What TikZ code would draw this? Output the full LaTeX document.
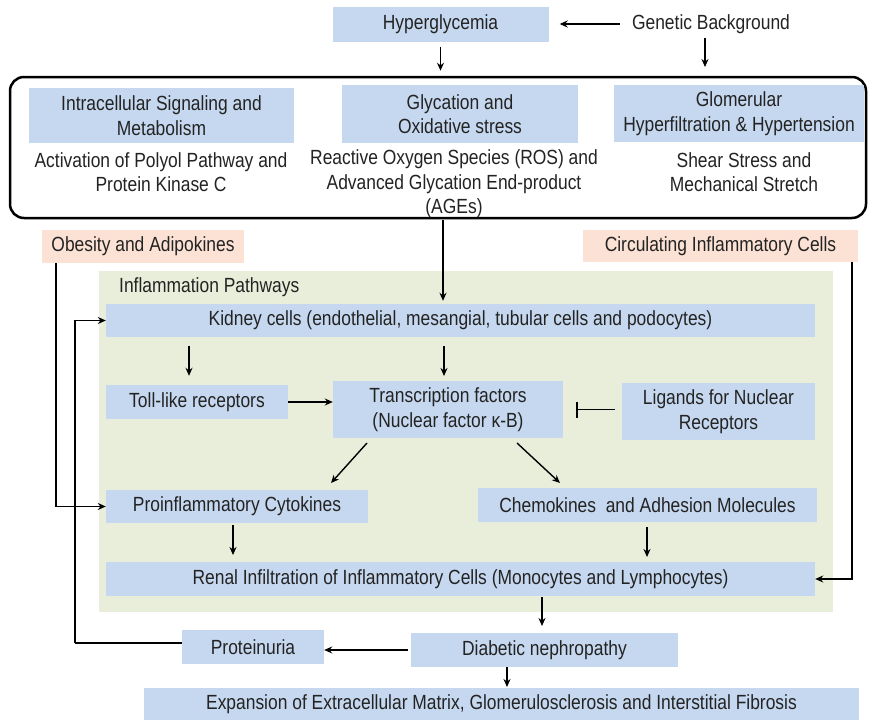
\documentclass[tikz,border=0pt]{standalone}
\usepackage{fontspec}
\setmainfont{Liberation Sans}[FakeStretch=0.85]
\usetikzlibrary{arrows.meta,calc}
\definecolor{bbox}{RGB}{198,216,239}
\definecolor{pbox}{RGB}{252,226,212}
\definecolor{gbg}{RGB}{233,238,218}
\definecolor{txt}{RGB}{35,35,35}
\begin{document}
\begin{tikzpicture}[x=1pt,y=-1pt,
  every node/.style={font=\fontsize{20.5}{24.5}\selectfont, text=txt, inner sep=0pt, align=center},
  bx/.style={fill=bbox, draw=none, minimum width=#1},
  pk/.style={fill=pbox, draw=none, minimum width=#1},
  tx/.style={fill=none},
  arr/.style={-{Stealth[length=8pt,width=7pt]}, line width=1.4pt, black},
  ln/.style={line width=1.4pt, black}]
\useasboundingbox (0,0) rectangle (871,720);
\fill[white] (0,0) rectangle (871,720);
% frames
\node[draw=black, line width=2.5pt, rounded corners=14pt, minimum width=856pt, minimum height=141pt] (frame) at (438,147.5) {};
\fill[gbg] (99,271) rectangle (833,612);
% top
\node[bx=216pt, minimum height=35pt] (hyper) at (440.5,24.5) {Hyperglycemia};
\node[tx] (gen) at (711,24) {Genetic Background};
\node[bx=265pt, minimum height=55pt] (intra) at (161.5,115.5) {Intracellular Signaling and\\Metabolism};
\node[bx=236pt, minimum height=58pt] (glyc) at (460,114) {Glycation and\\Oxidative stress};
\node[bx=250pt, minimum height=57pt] (glom) at (739,113.5) {Glomerular\\Hyperfiltration \& Hypertension};
\node[tx] (act) at (161,172) {Activation of Polyol Pathway and\\Protein Kinase C};
\node[tx] (ros) at (454,184) {Reactive Oxygen Species (ROS) and\\Advanced Glycation End-product\\(AGEs)};
\node[tx] (shear) at (744,172) {Shear Stress and\\Mechanical Stretch};
% middle
\node[pk=202pt, minimum height=33pt] (obes) at (143,246.5) {Obesity and Adipokines};
\node[pk=275pt, minimum height=32pt] (circ) at (720.5,246) {Circulating Inflammatory Cells};
\node[tx, anchor=west] (infl) at (119,287) {Inflammation Pathways};
\node[bx=709pt, minimum height=33pt] (kid) at (460.5,320.5) {Kidney cells (endothelial, mesangial, tubular cells and podocytes)};
\node[bx=182pt, minimum height=34pt] (toll) at (197,402) {Toll-like receptors};
\node[bx=230pt, minimum height=57pt] (tf) at (448,409.5) {Transcription factors\\(Nuclear factor κ-B)};
\node[bx=193pt, minimum height=57pt] (lig) at (718.5,411.5) {Ligands for Nuclear\\Receptors};
\node[bx=262pt, minimum height=33pt] (proinf) at (237,506.5) {Proinflammatory Cytokines};
\node[bx=339pt, minimum height=34pt] (chemo) at (647.5,505) {Chemokines\ \ and Adhesion Molecules};
\node[bx=709pt, minimum height=34pt] (renal) at (460.5,579) {Renal Infiltration of Inflammatory Cells (Monocytes and Lymphocytes)};
\node[bx=267pt, minimum height=34pt] (diab) at (544.5,650) {Diabetic nephropathy};
\node[bx=142pt, minimum height=34pt] (prot) at (253,647) {Proteinuria};
\node[bx=715pt, minimum height=32pt] (expn) at (501.5,704) {Expansion of Extracellular Matrix, Glomerulosclerosis and Interstitial Fibrosis};
% connectors
\draw[arr, shorten <=12pt, shorten >=11pt] (gen.west) -- (gen.west -| hyper.east);
\draw[arr, shorten <=5pt, shorten >=5pt] (hyper.south) -- (hyper.south |- frame.north);
\draw[arr, shorten <=4pt, shorten >=10pt] (gen.south -| 705,0) -- (705,77);
\coordinate (fb) at (443,218);
\draw[arr, shorten <=2pt, shorten >=3pt] (fb) -- (fb |- kid.north);
\draw[arr, shorten <=9pt, shorten >=9pt] (kid.south -| toll.north) ++(-8,0) -- ($(toll.north)+(-8,0)$);
\draw[arr, shorten <=9pt, shorten >=5pt] (kid.south -| 444,0) -- (444,381);
\draw[arr] (toll.east) -- (toll.east -| tf.west);
\draw[-{Bar[width=16pt,line width=1.8pt]}, line width=1.8pt, shorten <=7pt, shorten >=13pt] (lig.west |- tf.east) -- (tf.east);
\coordinate (d1) at (367,443);
\coordinate (d2) at (331,483);
\coordinate (d3) at (517,443);
\coordinate (d4) at (560,483);
\draw[arr] (d1) -- (d2);
\draw[arr] (d3) -- (d4);
\draw[arr, shorten <=2pt, shorten >=7pt] (proinf.south -| 233,0) -- (233,562);
\draw[arr, shorten <=5pt, shorten >=5pt] (chemo.south -| 647,0) -- (647,562);
\draw[arr, shorten <=1pt, shorten >=7pt] (renal.south -| 542,0) -- (542,633);
\draw[arr, shorten <=3pt] (diab.west) -- (prot.east |- diab.west);
\draw[arr, shorten >=1pt] (diab.south -| 507,0) -- (507,688);
\coordinate (ob) at (56,263);
\draw[arr] (ob) |- (proinf.west);
\coordinate (ci) at (852,262);
\draw[arr] (ci) |- (renal.east);
\coordinate (pl) at (75,643);
\draw[ln] (prot.west |- pl) -- (pl);
\draw[arr] (pl) |- (kid.west);
\end{tikzpicture}
\end{document}
